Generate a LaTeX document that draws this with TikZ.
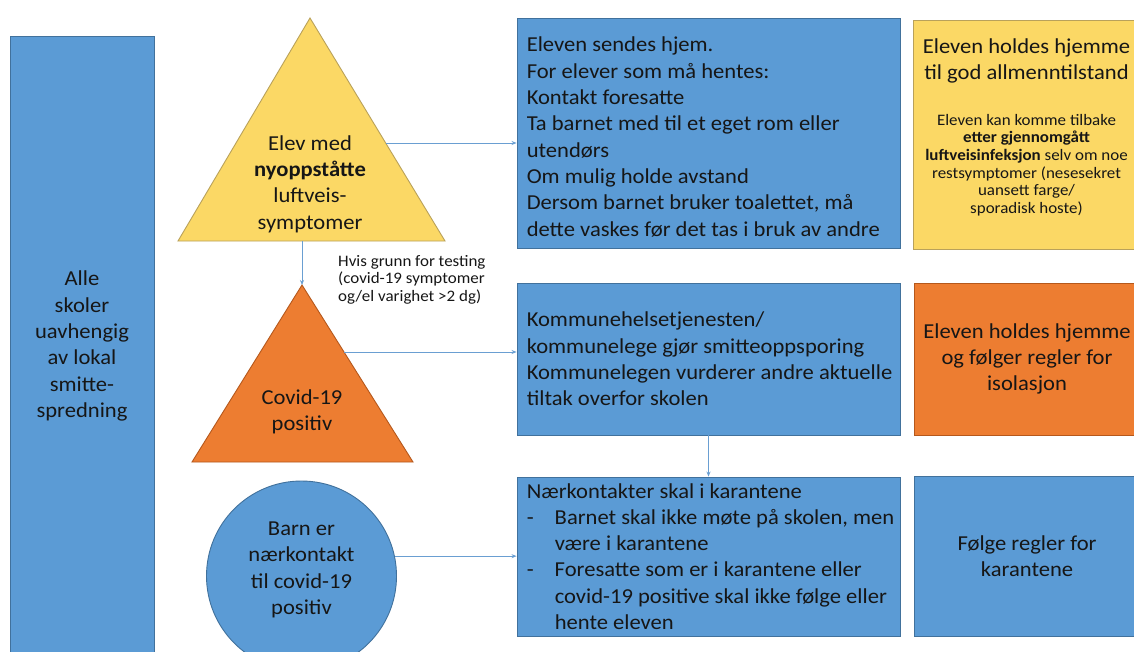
\documentclass[tikz,border=0pt]{standalone}
\usepackage{fontspec}
\setmainfont{Carlito}[FakeStretch=1.06]
\usetikzlibrary{arrows.meta}
\definecolor{bfill}{HTML}{5B9BD5}
\definecolor{bline}{HTML}{41719C}
\definecolor{yfill}{HTML}{FBD865}
\definecolor{yline}{HTML}{B9A15A}
\definecolor{ofill}{HTML}{ED7D31}
\definecolor{oline}{HTML}{B5581C}
\definecolor{txt}{HTML}{161616}
\definecolor{arrc}{HTML}{6A9FD2}
\begin{document}
\begin{tikzpicture}[x=1pt,y=-1pt,
  box/.style={draw=bline, fill=bfill, line width=0.9pt, inner sep=0pt},
  ybox/.style={draw=yline, fill=yfill, line width=0.9pt, inner sep=0pt},
  obox/.style={draw=oline, fill=ofill, line width=0.9pt, inner sep=0pt},
  big/.style={text=txt, inner sep=0pt, font=\fontsize{21.3}{26.3}\selectfont},
  small/.style={text=txt, inner sep=0pt, font=\fontsize{16}{17.6}\selectfont},
  conn/.style={draw=arrc, line width=0.8pt, -{Stealth[length=5pt,width=4pt]}}
]
\clip (0,0) rectangle (1134,651);
\fill[white] (0,0) rectangle (1134,651);

% left column
\node[box, minimum width=144pt, minimum height=624pt] (left) at (82,348) {};
\node[big, align=center] (lefttxt) at (82,346) {Alle\\skoler\\uavhengig\\av lokal\\smitte-\\spredning};

% yellow triangle
\coordinate (ya) at (310,18);
\coordinate (yl) at (178,241);
\coordinate (yr) at (445,241);
\filldraw[fill=yfill, draw=yline, line width=0.9pt] (ya) -- (yl) -- (yr) -- cycle;
\node[big, align=center] (ytxt) at (310,184) {Elev med\\\textbf{nyoppståtte}\\luftveis-\\symptomer};
\coordinate (yout) at (386,143);
\coordinate (ybot) at (302,241);

% orange triangle
\coordinate (oa) at (302,285);
\coordinate (ol) at (192,462);
\coordinate (or) at (413,462);
\filldraw[fill=ofill, draw=oline, line width=0.9pt] (oa) -- (ol) -- (or) -- cycle;
\node[big, align=center] (otxt) at (302,412) {Covid-19\\positiv};
\coordinate (oout) at (344,352);

% test label
\node[small, align=left, anchor=north west] (testlbl) at (338,255) {Hvis grunn for testing\\(covid-19 symptomer\\og/el varighet >2 dg)};

% circle
\node[box, circle, minimum size=190pt] (circ) at (301.5,576) {};
\node[big, align=center] (ctxt) at (301.5,570) {Barn er\\nærkontakt\\til covid-19\\positiv};

% middle column boxes
\node[box, minimum width=383pt, minimum height=230pt] (topbox) at (708.5,133) {};
\node[big, align=left, anchor=west] (toptxt) at ([xshift=10pt,yshift=-4pt]topbox.west) {Eleven sendes hjem.\\For elever som må hentes:\\Kontakt foresatte\\Ta barnet med til et eget rom eller\\utendørs\\Om mulig holde avstand\\Dersom barnet bruker toalettet, må\\dette vaskes før det tas i bruk av andre};

\node[box, minimum width=383pt, minimum height=152pt] (midbox) at (708.5,359) {};
\node[big, align=left, anchor=west] (midtxt) at ([xshift=10pt]midbox.west) {Kommunehelsetjenesten/\\kommunelege gjør smitteoppsporing\\Kommunelegen vurderer andre aktuelle\\tiltak overfor skolen};

\node[box, minimum width=383pt, minimum height=159pt] (lowbox) at (708.5,556.5) {};
\node[big, align=left, anchor=west] (lowtxt) at ([xshift=10pt]lowbox.west) {Nærkontakter skal i karantene\\\makebox[28pt][l]{-}Barnet skal ikke møte på skolen, men\\\makebox[28pt]{}være i karantene\\\makebox[28pt][l]{-}Foresatte som er i karantene eller\\\makebox[28pt]{}covid-19 positive skal ikke følge eller\\\makebox[28pt]{}hente eleven};

% right column
\node[ybox, minimum width=227pt, minimum height=229pt] (ybox) at (1026.5,134.5) {};
\node[big, align=center] (yhead) at (1026.5,61) {Eleven holdes hjemme\\til god allmenntilstand};
\node[small, align=center] (ysmall) at (1026.5,165) {Eleven kan komme tilbake\\\textbf{etter gjennomgått}\\\textbf{luftveisinfeksjon} selv om noe\\restsymptomer (nesesekret\\uansett farge/\\sporadisk hoste)};

\node[obox, minimum width=226pt, minimum height=152pt] (obox) at (1027,359) {};
\node[big, align=center] (otxt2) at (1027,359) {Eleven holdes hjemme\\og følger regler for\\isolasjon};

\node[box, minimum width=226pt, minimum height=160pt] (rbox) at (1027,556) {};
\node[big, align=center] (rtxt) at (1027,556) {Følge regler for\\karantene};

% connectors
\draw[conn] (yout) -- (yout -| topbox.west);
\draw[conn] (ybot) -- (oa);
\draw[conn] (oout) -- (oout -| midbox.west);
\draw[conn] (midbox.south) -- (lowbox.north);
\draw[conn] (circ.12) -- (circ.12 -| lowbox.west);
\end{tikzpicture}
\end{document}
